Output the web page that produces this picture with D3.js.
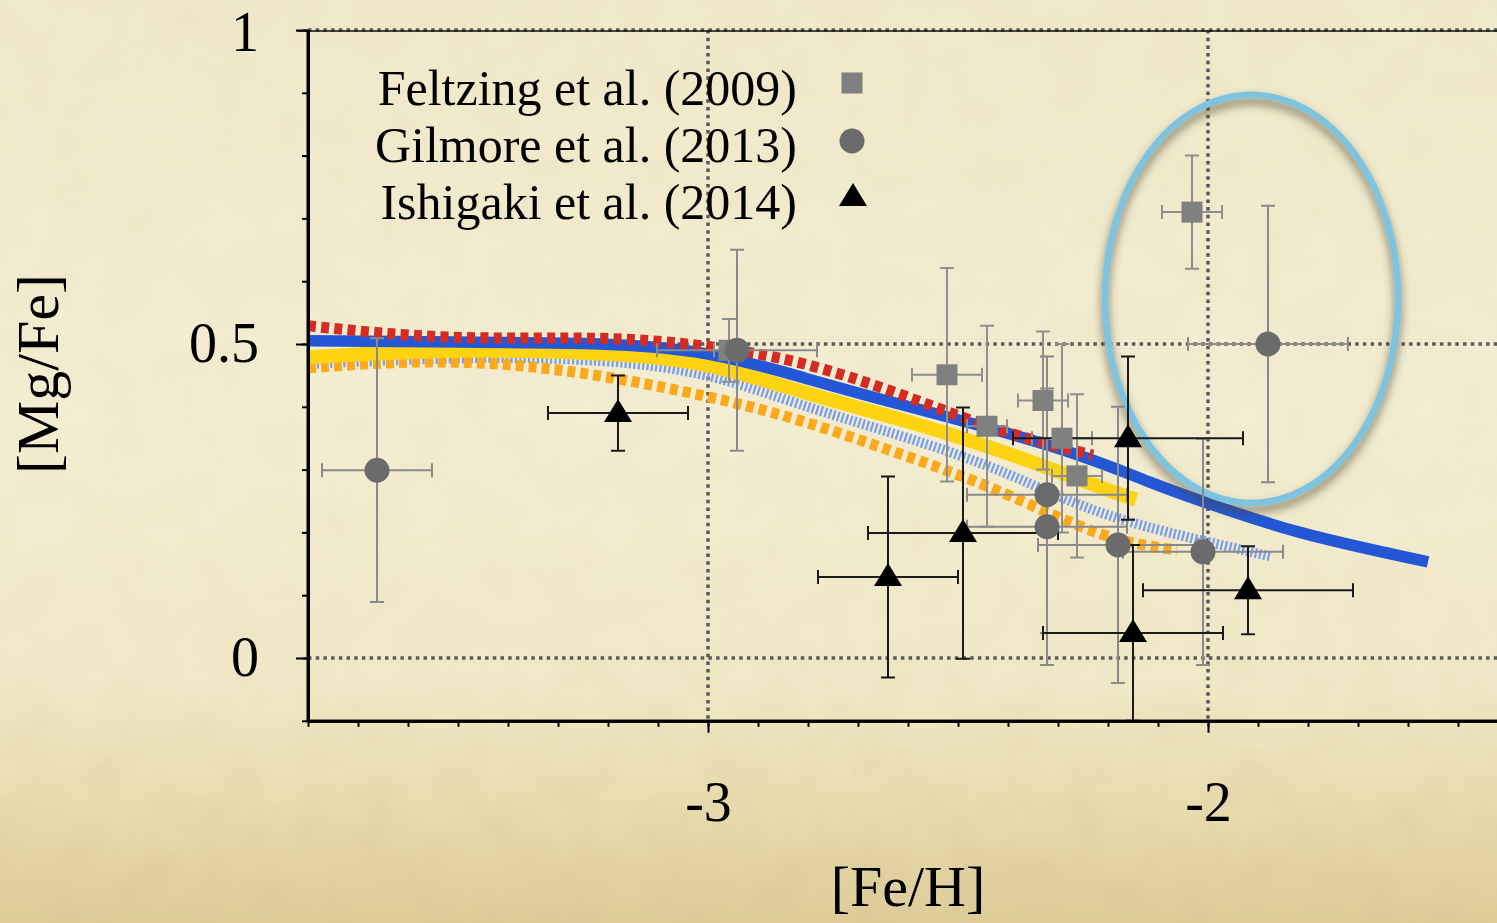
<!DOCTYPE html>
<html>
<head>
<meta charset="utf-8">
<script src="https://cdn.jsdelivr.net/npm/d3@7"></script>
<style>
body { margin: 0; overflow: hidden; background: #f2ebcc; }
text { font-family: "Liberation Serif", "Times New Roman", serif; fill: #000; }
</style>
</head>
<body>
<div id="chart"></div>
<script>
// [Fe/H] vs [Mg/Fe] with error bars
const legend_labels = ["Feltzing et al. (2009)", "Gilmore et al. (2013)", "Ishigaki et al. (2014)"]

const feltzing = [
    {feh: -2.958, mg: 0.49, dx: 0.03, dy: 0.05},
    {feh: -2.522, mg: 0.451, dx: 0.07, dy: 0.17},
    {feh: -2.442, mg: 0.369, dx: 0.04, dy: 0.16},
    {feh: -2.33, mg: 0.41, dx: 0.05, dy: 0.11},
    {feh: -2.292, mg: 0.35, dx: 0.06, dy: 0.15},
    {feh: -2.262, mg: 0.29, dx: 0.05, dy: 0.13},
    {feh: -2.032, mg: 0.71, dx: 0.06, dy: 0.09}
]

const gilmore = [
    {feh: -3.662, mg: 0.299, dx: 0.11, dy: 0.21},
    {feh: -2.942, mg: 0.49, dx: 0.16, dy: 0.16},
    {feh: -2.322, mg: 0.26, dx: 0.16, dy: 0.22},
    {feh: -2.322, mg: 0.209, dx: 0.16, dy: 0.22},
    {feh: -2.18, mg: 0.18, dx: 0.16, dy: 0.22},
    {feh: -2.01, mg: 0.169, dx: 0.16, dy: 0.18},
    {feh: -1.88, mg: 0.5, dx: 0.16, dy: 0.22}
]

const ishigaki = [
    {feh: -3.18, mg: 0.39, dx: 0.14, dy: 0.06},
    {feh: -2.64, mg: 0.129, dx: 0.14, dy: 0.16},
    {feh: -2.49, mg: 0.199, dx: 0.19, dy: 0.2},
    {feh: -2.16, mg: 0.35, dx: 0.23, dy: 0.13},
    {feh: -2.15, mg: 0.04, dx: 0.18, dy: 0.14},
    {feh: -1.92, mg: 0.108, dx: 0.21, dy: 0.07}
]

// model curves, [feh, mg]
const model_blue = [[-3.8, 0.505], [-3.5, 0.503], [-3.216, 0.5], [-3.0, 0.484], [-2.816, 0.448],
    [-2.616, 0.404], [-2.316, 0.338], [-2.116, 0.28], [-2.006, 0.248], [-1.816, 0.2], [-1.56, 0.153]]
const model_red = [[-3.8, 0.529], [-3.516, 0.511], [-3.216, 0.509], [-3.0, 0.496], [-2.816, 0.47],
    [-2.616, 0.42], [-2.416, 0.363], [-2.23, 0.323]]
const model_yellow = [[-3.8, 0.479], [-3.516, 0.489], [-3.216, 0.485], [-3.0, 0.466], [-2.816, 0.425],
    [-2.616, 0.38], [-2.416, 0.33], [-2.216, 0.272], [-2.144, 0.252]]
const model_lightblue = [[-3.8, 0.468], [-3.5, 0.477], [-3.216, 0.473], [-3.0, 0.449], [-2.816, 0.404],
    [-2.616, 0.354], [-2.416, 0.298], [-2.216, 0.232], [-2.006, 0.186], [-1.876, 0.162]]
const model_orange = [[-3.8, 0.462], [-3.6, 0.471], [-3.4, 0.467], [-3.2, 0.447], [-3.0, 0.416],
    [-2.816, 0.378], [-2.616, 0.325], [-2.416, 0.265], [-2.216, 0.198], [-2.062, 0.172]]

const highlight = [{feh: -1.913, mg: 0.572, rfeh: 0.293, rmg: 0.325}]

const x_major = [-3, -2]
const x_minor = d3.range(-38, -14).map(d => d / 10)
const y_major = [0, 0.5, 1]
const y_minor = d3.range(-1, 11).map(d => d / 10)

let width = 1497,
    height = 923

let svg = d3.select("#chart").append("svg")
    .attr("width", width)
    .attr("height", height)

let defs = svg.append("defs")

let bg = defs.append("linearGradient").attr("id", "bg").attr("x1", 0).attr("y1", 0).attr("x2", 0).attr("y2", 1)
bg.append("stop").attr("offset", "0%").attr("stop-color", "#f0e9ca")
bg.append("stop").attr("offset", "45%").attr("stop-color", "#f3edd2")
bg.append("stop").attr("offset", "75%").attr("stop-color", "#f0e8c6")
bg.append("stop").attr("offset", "88%").attr("stop-color", "#e8dbae")
bg.append("stop").attr("offset", "100%").attr("stop-color", "#dfcc98")

// texture fades in toward the bottom
let fade = defs.append("linearGradient").attr("id", "fade").attr("x1", 0).attr("y1", 0).attr("x2", 0).attr("y2", 1)
fade.append("stop").attr("offset", "0%").attr("stop-color", "#fff").attr("stop-opacity", 0.25)
fade.append("stop").attr("offset", "70%").attr("stop-color", "#fff").attr("stop-opacity", 0.2)
fade.append("stop").attr("offset", "100%").attr("stop-color", "#fff").attr("stop-opacity", 0.9)
defs.append("mask").attr("id", "fade-mask")
    .append("rect").attr("width", width).attr("height", height).attr("fill", "url(#fade)")

let paper = defs.append("filter").attr("id", "paper").attr("x", 0).attr("y", 0).attr("width", "100%").attr("height", "100%")
paper.append("feTurbulence").attr("type", "fractalNoise").attr("baseFrequency", 0.02).attr("numOctaves", 4).attr("seed", 7)
paper.append("feColorMatrix").attr("type", "matrix")
    .attr("values", "0 0 0 0 0.66  0 0 0 0 0.55  0 0 0 0 0.3  0 0 0 -1.6 1.0")

let shadow = defs.append("filter").attr("id", "shadow").attr("x", "-20%").attr("y", "-20%").attr("width", "140%").attr("height", "140%")
shadow.append("feDropShadow").attr("dx", 0).attr("dy", 6).attr("stdDeviation", 5)
    .attr("flood-color", "#4a4530").attr("flood-opacity", 0.7)

defs.append("clipPath").attr("id", "plot-clip")
    .append("rect").attr("x", 308).attr("y", 20).attr("width", width - 308).attr("height", 700)

svg.append("rect").attr("width", width).attr("height", height).attr("fill", "url(#bg)")
svg.append("rect").attr("width", width).attr("height", height)
    .attr("filter", "url(#paper)").attr("mask", "url(#fade-mask)").attr("opacity", 0.5)

let x = d3.scaleLinear().domain([-3.8, -1.422]).range([308, 1497])
let y = d3.scaleLinear().domain([-0.1, 1]).range([720.8, 30])

// dotted grid
let grid = svg.append("g").attr("stroke", "#595959").attr("stroke-width", 3.5).attr("stroke-dasharray", "3.5,4.2")
grid.selectAll("line.gx").data(x_major).join("line")
    .attr("x1", d => x(d)).attr("x2", d => x(d)).attr("y1", y(1)).attr("y2", y(-0.1))
grid.selectAll("line.gy").data(y_major).join("line")
    .attr("x1", x(-3.8)).attr("x2", width).attr("y1", d => y(d)).attr("y2", d => y(d))

svg.append("line").attr("x1", 297).attr("x2", width).attr("y1", y(1) + 1).attr("y2", y(1) + 1)
    .attr("stroke", "#111").attr("stroke-width", 1.5)

let plot = svg.append("g").attr("clip-path", "url(#plot-clip)")

const lineGen = d3.line()
    .x(d => x(d[0]))
    .y(d => y(d[1]))
    .curve(d3.curveNatural)

const curves = [
    {data: model_lightblue, color: "#789ef2", w: 10, dash: "2.2,2.2"},
    {data: model_orange, color: "#fcaa1c", w: 11, dash: "8,5"},
    {data: model_yellow, color: "#fdd312", w: 14, dash: null},
    {data: model_blue, color: "#2457d6", w: 11.5, dash: null},
    {data: model_red, color: "#d52b25", w: 11, dash: "8,5.3"}
]

plot.append("g").selectAll("path")
    .data(curves)
    .join("path")
    .attr("d", d => lineGen(d.data))
    .attr("fill", "none")
    .attr("stroke", d => d.color)
    .attr("stroke-width", d => d.w)
    .attr("stroke-dasharray", d => d.dash)

plot.append("g").selectAll("ellipse")
    .data(highlight)
    .join("ellipse")
    .attr("cx", d => x(d.feh))
    .attr("cy", d => y(d.mg))
    .attr("rx", d => x(d.feh + d.rfeh) - x(d.feh))
    .attr("ry", d => y(d.mg - d.rmg) - y(d.mg))
    .attr("fill", "none")
    .attr("stroke", "#7ec3df")
    .attr("stroke-width", 6.5)
    .attr("filter", "url(#shadow)")

function error_bars(g, data, color, sw) {
    let cap = 7
    let eb = g.append("g").attr("stroke", color).attr("stroke-width", sw).attr("fill", "none")
    eb.selectAll("path")
        .data(data)
        .join("path")
        .attr("d", d => {
            let cx = x(d.feh), cy = y(d.mg)
            let x0 = x(d.feh - d.dx), x1 = x(d.feh + d.dx)
            let y0 = y(d.mg + d.dy), y1 = y(d.mg - d.dy)
            return `M${x0},${cy}H${x1}M${cx},${y0}V${y1}` +
                `M${x0},${cy - cap}V${cy + cap}M${x1},${cy - cap}V${cy + cap}` +
                `M${cx - cap},${y0}H${cx + cap}M${cx - cap},${y1}H${cx + cap}`
        })
}

error_bars(plot, feltzing, "#8f8f8f", 2)
error_bars(plot, gilmore, "#8a8a8a", 2)
error_bars(plot, ishigaki, "#1a1a1a", 2)

const square = d3.symbol().type(d3.symbolSquare).size(441)
const circle = d3.symbol().type(d3.symbolCircle).size(Math.PI * 12.5 * 12.5)
const triangle = "M0,-13L14,10L-14,10Z"

plot.append("g").selectAll("path")
    .data(feltzing)
    .join("path")
    .attr("transform", d => `translate(${x(d.feh)},${y(d.mg)})`)
    .attr("d", square)
    .attr("fill", "#808080")

plot.append("g").selectAll("path")
    .data(gilmore)
    .join("path")
    .attr("transform", d => `translate(${x(d.feh)},${y(d.mg)})`)
    .attr("d", circle)
    .attr("fill", "#6b6b6b")

plot.append("g").selectAll("path")
    .data(ishigaki)
    .join("path")
    .attr("transform", d => `translate(${x(d.feh)},${y(d.mg) - 1})`)
    .attr("d", triangle)
    .attr("fill", "#000")

// axes
let xMinor = svg.append("g").attr("transform", `translate(0,${y(-0.1)})`)
    .call(d3.axisBottom(x).tickValues(x_minor).tickSize(6).tickSizeOuter(0).tickFormat(""))
let xMajor = svg.append("g").attr("transform", `translate(0,${y(-0.1)})`)
    .call(d3.axisBottom(x).tickValues(x_major).tickSize(12).tickSizeOuter(0).tickPadding(48)
        .tickFormat(d => String(d)))
let yMinor = svg.append("g").attr("transform", `translate(${x(-3.8)},0)`)
    .call(d3.axisLeft(y).tickValues(y_minor).tickSize(6).tickSizeOuter(0).tickFormat(""))
let yMajor = svg.append("g").attr("transform", `translate(${x(-3.8)},0)`)
    .call(d3.axisLeft(y).tickValues(y_major).tickSize(12).tickSizeOuter(0).tickPadding(37)
        .tickFormat(d => String(d)))

for (const a of [xMinor, xMajor, yMinor, yMajor]) {
    a.select(".domain").attr("stroke", "#000").attr("stroke-width", 3)
    a.selectAll(".tick line").attr("stroke", "#000").attr("stroke-width", 2)
    a.selectAll(".tick text")
        .attr("font-family", "\"Liberation Serif\", serif")
        .attr("font-size", 56)
        .attr("fill", "#000")
}
yMajor.select(".domain").attr("d", `M0,${y(1)}V${y(-0.1)}`)
yMajor.selectAll(".tick text").filter(d => d === 1).attr("dy", "0.36em")

svg.append("text")
    .attr("x", 908).attr("y", 906)
    .attr("text-anchor", "middle")
    .attr("font-size", 58)
    .text("[Fe/H]")

svg.append("text")
    .attr("transform", "translate(58,374) rotate(-90)")
    .attr("text-anchor", "middle")
    .attr("font-size", 60)
    .text("[Mg/Fe]")

// legend
let legend = svg.append("g")
legend.selectAll("text")
    .data(legend_labels)
    .join("text")
    .attr("x", 797)
    .attr("y", (d, i) => 105 + i * 57)
    .attr("text-anchor", "end")
    .attr("font-size", 50)
    .text(d => d)

legend.append("path").attr("transform", "translate(852,83)").attr("d", square).attr("fill", "#808080")
legend.append("path").attr("transform", "translate(852,141)").attr("d", circle).attr("fill", "#6b6b6b")
legend.append("path").attr("transform", "translate(853,196)").attr("d", triangle).attr("fill", "#000")
</script>
</body>
</html>
